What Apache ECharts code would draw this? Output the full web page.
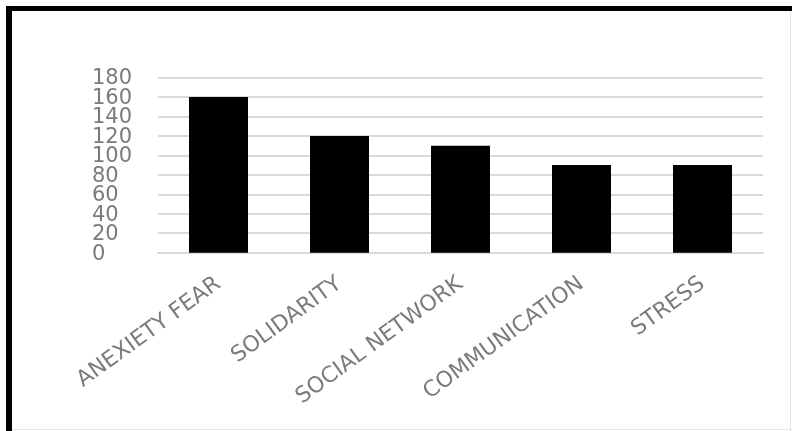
<!DOCTYPE html>
<html>
<head>
<meta charset="utf-8">
<script src="https://cdn.jsdelivr.net/npm/echarts@6/dist/echarts.min.js"></script>
<style>
  html, body { margin: 0; padding: 0; background: #ffffff; }
  #chart { width: 792px; height: 431px; }
</style>
</head>
<body>
<div id="chart"></div>
<script>
// Categories and their counts
const categories = ['ANEXIETY FEAR', 'SOLIDARITY', 'SOCIAL NETWORK', 'COMMUNICATION', 'STRESS'];
const counts = [160, 120, 110, 90, 90];

// Value axis range and its tick labels
const yMin = 0;
const yMax = 180;
const yStep = 20;
const yTickLabels = ['0', '20', '40', '60', '80', '100', '120', '140', '160', '180'];

const labelColor = '#7b7b7b';
const gridColor = '#dadada';
const font = 'DejaVu Sans';
const plotLeft = 158;

const chart = echarts.init(document.getElementById('chart'), null, { renderer: 'canvas' });

// frame: heavy black top and left edges, faint grey right and bottom edges
const frame = [
  { type: 'rect', left: 6, top: 6, shape: { width: 786, height: 5 }, style: { fill: '#000000' }, z: 100 },
  { type: 'rect', left: 6, top: 6, shape: { width: 6, height: 425 }, style: { fill: '#000000' }, z: 100 },
  { type: 'rect', left: 790, top: 11, shape: { width: 1, height: 420 }, style: { fill: '#e6e6e6' }, z: 100 },
  { type: 'rect', left: 12, top: 429, shape: { width: 780, height: 1 }, style: { fill: '#e6e6e6' }, z: 100 }
];

chart.setOption({
  backgroundColor: '#ffffff',
  animation: false,
  grid: { left: plotLeft, right: 29, top: 77.5, bottom: 178.3 },
  xAxis: {
    type: 'category',
    data: categories,
    axisLine: { show: true, lineStyle: { color: gridColor, width: 2 } },
    axisTick: { show: false },
    axisLabel: {
      rotate: 36,
      margin: 29,
      color: labelColor,
      fontFamily: font,
      fontSize: 22,
      interval: 0
    }
  },
  yAxis: {
    type: 'value',
    min: yMin,
    max: yMax,
    interval: yStep,
    axisLine: { show: false },
    axisTick: { show: false },
    axisLabel: { show: false },
    splitLine: { show: true, lineStyle: { color: gridColor, width: 2 } }
  },
  series: [{
    type: 'bar',
    data: counts,
    barWidth: 59,
    itemStyle: { color: '#000000' }
  }],
  graphic: frame
});

// The tick numbers sit so close together that the axis would thin them out,
// so they are placed as left-aligned texts at the value axis' own pixel positions.
const tickTexts = yTickLabels.map((t) => {
  const y = chart.convertToPixel({ yAxisIndex: 0 }, Number(t));
  return {
    type: 'text',
    x: plotLeft - 66,
    y: y + 1.5,
    style: {
      text: t,
      fill: labelColor,
      font: '21px "' + font + '"',
      textAlign: 'left',
      textVerticalAlign: 'middle'
    },
    z: 50
  };
});

chart.setOption({ graphic: frame.concat(tickTexts) }, { replaceMerge: ['graphic'] });
</script>
</body>
</html>
